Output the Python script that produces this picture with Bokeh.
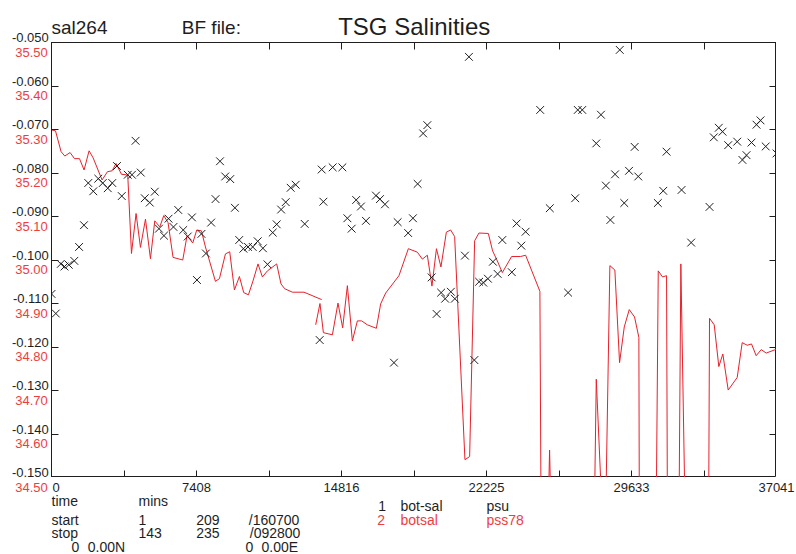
from bokeh.plotting import figure
from bokeh.models import Range1d, LinearAxis, FixedTicker, ColumnDataSource
from bokeh.layouts import row, column
from bokeh.core.properties import value
from bokeh.embed import file_html
from bokeh.resources import INLINE

# ---------------- data ----------------
diff_time = [0, 220, 475, 664, 884, 1164, 1410, 1660, 1879, 2135, 2390, 2620, 2875, 3105, 3345,
             3590, 3897, 4111, 4295, 4561, 4765, 5020, 5276, 5490, 5745, 5980, 6231, 6476, 6731,
             6961, 7175, 7431, 7661, 7890, 8156, 8381, 8610, 8876, 9131, 9371, 9591, 9805, 10040,
             10280, 10536, 10801, 11036, 11302, 11506, 11731, 11966, 12221, 12476, 12936, 13702,
             13804, 13891, 14366, 14861, 15117, 15336, 15566, 15811, 16067, 16577, 16782, 17037,
             17497, 17686, 18222, 18467, 18707, 18988, 19202, 19422, 19677, 19907, 20111, 20403,
             20607, 21123, 21327, 21603, 21848, 22057, 22297, 22553, 22793, 23033, 23518, 23763,
             24003, 24223, 24968, 25459, 26393, 26756, 26888, 27118, 27833, 28073, 28324, 28554,
             28793, 29033, 29263, 29508, 29794, 29978, 30979, 31255, 31424, 32190, 32680, 33620,
             33839, 34094, 34283, 34574, 35034, 35300, 35509, 35765, 36020, 36224, 36490, 37041]
diff_val = [-0.1078, -0.1123, -0.1009, -0.1015, -0.1011, -0.1002, -0.0970, -0.0920, -0.0823,
            -0.0842, -0.0813, -0.0823, -0.0835, -0.0823, -0.0784, -0.0853, -0.0804, -0.0804,
            -0.0726, -0.0799, -0.0858, -0.0868, -0.0843, -0.0928, -0.0944, -0.0905, -0.0924,
            -0.0885, -0.0931, -0.0946, -0.0902, -0.1046, -0.0940, -0.0985, -0.0914, -0.0860,
            -0.0773, -0.0808, -0.0814, -0.0880, -0.0954, -0.0974, -0.0970, -0.0970, -0.0957,
            -0.0973, -0.1010, -0.0937, -0.0918, -0.0884, -0.0867, -0.0834, -0.0827, -0.0917,
            -0.1184, -0.0792, -0.0866, -0.0787, -0.0787, -0.0904, -0.0928, -0.0862, -0.0877,
            -0.0910, -0.0852, -0.0860, -0.0872, -0.1236, -0.0913, -0.0938, -0.0904, -0.0825,
            -0.0709, -0.0690, -0.1040, -0.1124, -0.1075, -0.1089, -0.1073, -0.1089, -0.0990,
            -0.0533, -0.1230, -0.1050, -0.1052, -0.1043, -0.1004, -0.1032, -0.0954, -0.1028,
            -0.0916, -0.0967, -0.0935, -0.0655, -0.0881, -0.1075, -0.0858, -0.0655, -0.0655,
            -0.0732, -0.0666, -0.0829, -0.0908, -0.0803, -0.0517, -0.0869, -0.0795, -0.0740,
            -0.0808, -0.0869, -0.0841, -0.0751, -0.0839, -0.0960, -0.0878, -0.0718, -0.0696,
            -0.0705, -0.0736, -0.0728, -0.0770, -0.0759, -0.0730, -0.0689, -0.0679, -0.0739,
            -0.0755]

NaN = float("nan")
sal_time = [0, 204, 490, 679, 950, 1175, 1430, 1665, 1920, 2125, 2584, 2860, 3095, 3299, 3575,
            3810, 3897, 4086, 4321, 4545, 4801, 5056, 5276, 5531, 5735, 5955, 6210, 6706, 6925,
            7216, 7421, 7661, 7865, 8375, 8580, 8886, 9106, 9346, 9601, 9821, 10061, 10296, 10551,
            10776, 11031, 11506, 11726, 11914, 12308, 12900, 13804, NaN,
            13498, 13717, 13891, 14351, 14637, 14877, 15117, 15372, 15627, 15847, 16138, 16598,
            16817, 17073, 17752, 18232, 18692, 18947, 19202, 19437, 19667, 19897, 20173, 20392,
            20597, 21123, 21363, 21618, 21838, 22318, 22537, 22777, 23033, 23508, 23968, 24223,
            24953, 25014, 25367, 25448, 25530, 27731, 27833, 28150, 28308, 28528, 28783, 29023,
            29263, 29518, 29789, 30009, 30034, 30892, 31000, 31219, 31424, 31469, 32057, 32154,
            32378, 33573, 33619, 33859, 34094, 34299, 34574, 35034, 35289, 35545, 35765, 36004,
            36260, 36515, 37041]
sal_val = [35.299, 35.297, 35.249, 35.239, 35.247, 35.233, 35.233, 35.207, 35.251, 35.235, 35.184,
           35.203, 35.205, 35.222, 35.197, 35.196, 35.194, 35.015, 35.107, 35.029, 35.094, 35.003,
           35.090, 35.076, 35.102, 35.086, 35.006, 35.000, 35.056, 35.039, 35.069, 35.067, 35.030,
           34.951, 34.957, 35.014, 35.019, 34.931, 34.962, 34.925, 34.920, 34.952, 34.991, 34.961,
           34.975, 34.991, 34.945, 34.934, 34.926, 34.926, 34.909, NaN,
           34.851, 34.900, 34.833, 34.828, 34.901, 34.844, 34.941, 34.814, 34.860, 34.860, 34.851,
           34.843, 34.899, 34.924, 34.964, 35.026, 35.018, 35.002, 35.011, 34.940, 35.026, 34.984,
           35.064, 35.069, 35.054, 34.541, 34.548, 35.044, 35.062, 35.061, 35.021, 34.998, 34.971,
           35.008, 35.008, 35.011, 34.928, 34.40, 34.40, 34.563, 34.40, 34.40, 34.726, 34.40,
           34.40, 34.987, 34.977, 34.764, 34.846, 34.886, 34.869, 34.822, 34.40, 34.40, 34.975,
           34.961, 34.964, 34.40, 34.40, 34.991, 34.40, 34.40, 34.866, 34.851, 34.755, 34.784,
           34.701, 34.730, 34.810, 34.804, 34.807, 34.780, 34.794, 34.786, 34.795]

x_major_ticks = [0, 7408.2, 14816.4, 22224.6, 29632.8, 37041]
x_minor_ticks = [3704.1, 11112.3, 18520.5, 25928.7, 33336.9]
x_tick_labels = ["0", "7408", "14816", "22225", "29633", "37041"]
y_ticks = [-0.15, -0.14, -0.13, -0.12, -0.11, -0.10, -0.09, -0.08, -0.07, -0.06, -0.05]
y_tick_labels = ["-0.150", "-0.140", "-0.130", "-0.120", "-0.110", "-0.100", "-0.090",
                 "-0.080", "-0.070", "-0.060", "-0.050"]
sal_ticks = [34.5, 34.6, 34.7, 34.8, 34.9, 35.0, 35.1, 35.2, 35.3, 35.4, 35.5]
sal_tick_labels = ["34.50", "34.60", "34.70", "34.80", "34.90", "35.00", "35.10", "35.20",
                   "35.30", "35.40", "35.50"]

header_texts = ["sal264", "BF file:", "TSG Salinities"]
footer_texts = ["time", "mins",
                "start", "1", "209", "/160700",
                "stop", "143", "235", "/092800",
                "0", "0.00N", "0", "0.00E",
                "1", "bot-sal", "psu",
                "2", "botsal", "pss78"]

# ---------------- layout / styling ----------------
FONT = "Liberation Sans"
BLACK = "#1e1e1e"
RED_TXT = "#f03c3c"
RED_LINE = "#e8202a"

LEFT_W, TOP_H, PLOT_W, PLOT_H, RIGHT_W, BOT_H = 51, 42, 725, 435, 20, 77
X0, X1 = 0, 37041
Y0, Y1 = -0.15, -0.05
S0, S1 = 34.5, 35.5
W = PLOT_W + RIGHT_W


def blank_fig(w, h, xr, yr):
    f = figure(width=w, height=h, x_range=xr, y_range=yr, output_backend="svg",
               toolbar_location=None, min_border=0, x_axis_location=None, y_axis_location=None)
    f.outline_line_color = None
    f.grid.visible = False
    f.background_fill_color = "white"
    f.border_fill_color = "white"
    return f


# main plot
p = figure(width=PLOT_W, height=PLOT_H, x_range=Range1d(X0, X1), y_range=Range1d(Y0, Y1),
           output_backend="svg", toolbar_location=None,
           x_axis_location=None, y_axis_location=None, min_border=0)
p.extra_y_ranges = {"sal": Range1d(S0, S1)}
p.grid.visible = False
p.outline_line_color = BLACK
p.background_fill_color = "white"
p.border_fill_color = "white"


def tick_axis(ticker):
    ax = LinearAxis(ticker=ticker)
    ax.major_tick_in = 7
    ax.major_tick_out = 0
    ax.minor_tick_in = 7
    ax.minor_tick_out = 0
    ax.major_tick_line_color = BLACK
    ax.minor_tick_line_color = BLACK
    ax.axis_line_color = BLACK
    ax.major_label_text_font_size = "0px"
    ax.major_label_text_color = None
    ax.major_label_standoff = 0
    return ax


for place in ("below", "above"):
    p.add_layout(tick_axis(FixedTicker(ticks=x_major_ticks, minor_ticks=x_minor_ticks)), place)
for place in ("left", "right"):
    p.add_layout(tick_axis(FixedTicker(ticks=y_ticks)), place)

p.line(sal_time, sal_val, y_range_name="sal", line_color=RED_LINE, line_width=1)
p.scatter(diff_time, diff_val, marker="x", size=11, line_color=BLACK, line_width=1)

# left column: y tick labels on the same scales, extended over header/footer height
dy = (Y1 - Y0) / PLOT_H
ds = (S1 - S0) / PLOT_H
left = blank_fig(LEFT_W, TOP_H + PLOT_H + BOT_H, Range1d(0, LEFT_W),
                 Range1d(Y0 - BOT_H * dy, Y1 + TOP_H * dy))
left.extra_y_ranges = {"sal": Range1d(S0 - BOT_H * ds, S1 + TOP_H * ds)}
left.text(x=[LEFT_W - 2.7] * len(y_ticks), y=y_ticks, text=y_tick_labels, y_offset=-5,
          text_align="right", text_baseline="alphabetic", text_font=value(FONT),
          text_font_size=value("13px"), text_color=BLACK)
left.text(x=[LEFT_W - 3.7] * len(sal_ticks), y=sal_ticks, text=sal_tick_labels,
          y_range_name="sal", y_offset=9.8,
          text_align="right", text_baseline="alphabetic", text_font=value(FONT),
          text_font_size=value("13px"), text_color=RED_TXT)

# header (pixel coordinates, y downward)
header = blank_fig(W, TOP_H, Range1d(0, W), Range1d(TOP_H, 0))
header.text(x=[0, 130.3], y=[34, 34], text=header_texts[:2], y_offset=-7, text_align="left",
            text_baseline="alphabetic", text_font=value(FONT), text_font_size=value("19px"),
            text_color=BLACK)
header.text(x=[286.7], y=[34], text=header_texts[2:], y_offset=-8.5, text_align="left",
            text_baseline="alphabetic", text_font=value(FONT), text_font_size=value("24px"),
            text_color=BLACK)

# footer: x tick labels on the time scale + info text
footer = blank_fig(W, BOT_H, Range1d(0, W), Range1d(BOT_H, 0))
footer.extra_x_ranges = {"time": Range1d(X0, X0 + (X1 - X0) * W / PLOT_W)}
footer.text(x=x_major_ticks[:1], y=[14], text=x_tick_labels[:1], x_range_name="time",
            x_offset=1, y_offset=-4.3, text_align="left", text_baseline="alphabetic",
            text_font=value(FONT), text_font_size=value("13px"), text_color=BLACK)
footer.text(x=x_major_ticks[1:], y=[14] * 5, text=x_tick_labels[1:], x_range_name="time",
            y_offset=-4.3, text_align="center", text_baseline="alphabetic",
            text_font=value(FONT), text_font_size=value("13px"), text_color=BLACK)

fx = [0, 87,
      0, 87, 144.7, 197.3,
      0, 87, 144.7, 198.3,
      20, 36.3, 194, 210,
      326.7, 349, 435,
      325.7, 349, 435]
fy = [28, 28,
      47, 47, 47, 47,
      60.5, 60.5, 60.5, 60.5,
      74.7, 74.7, 74.7, 74.7,
      33.5, 33.5, 33.5,
      47, 47, 47]
fc = [BLACK] * 17 + [RED_TXT] * 3
footer.text(x="x", y="y", text="text", text_color="c",
            source=ColumnDataSource(dict(x=fx, y=fy, text=footer_texts, c=fc)),
            y_offset=-5, text_align="left", text_baseline="alphabetic", text_font=value(FONT),
            text_font_size=value("14px"))

layout = row(left, column(header, p, footer))
open("out.html", "w").write(file_html(layout, INLINE))
